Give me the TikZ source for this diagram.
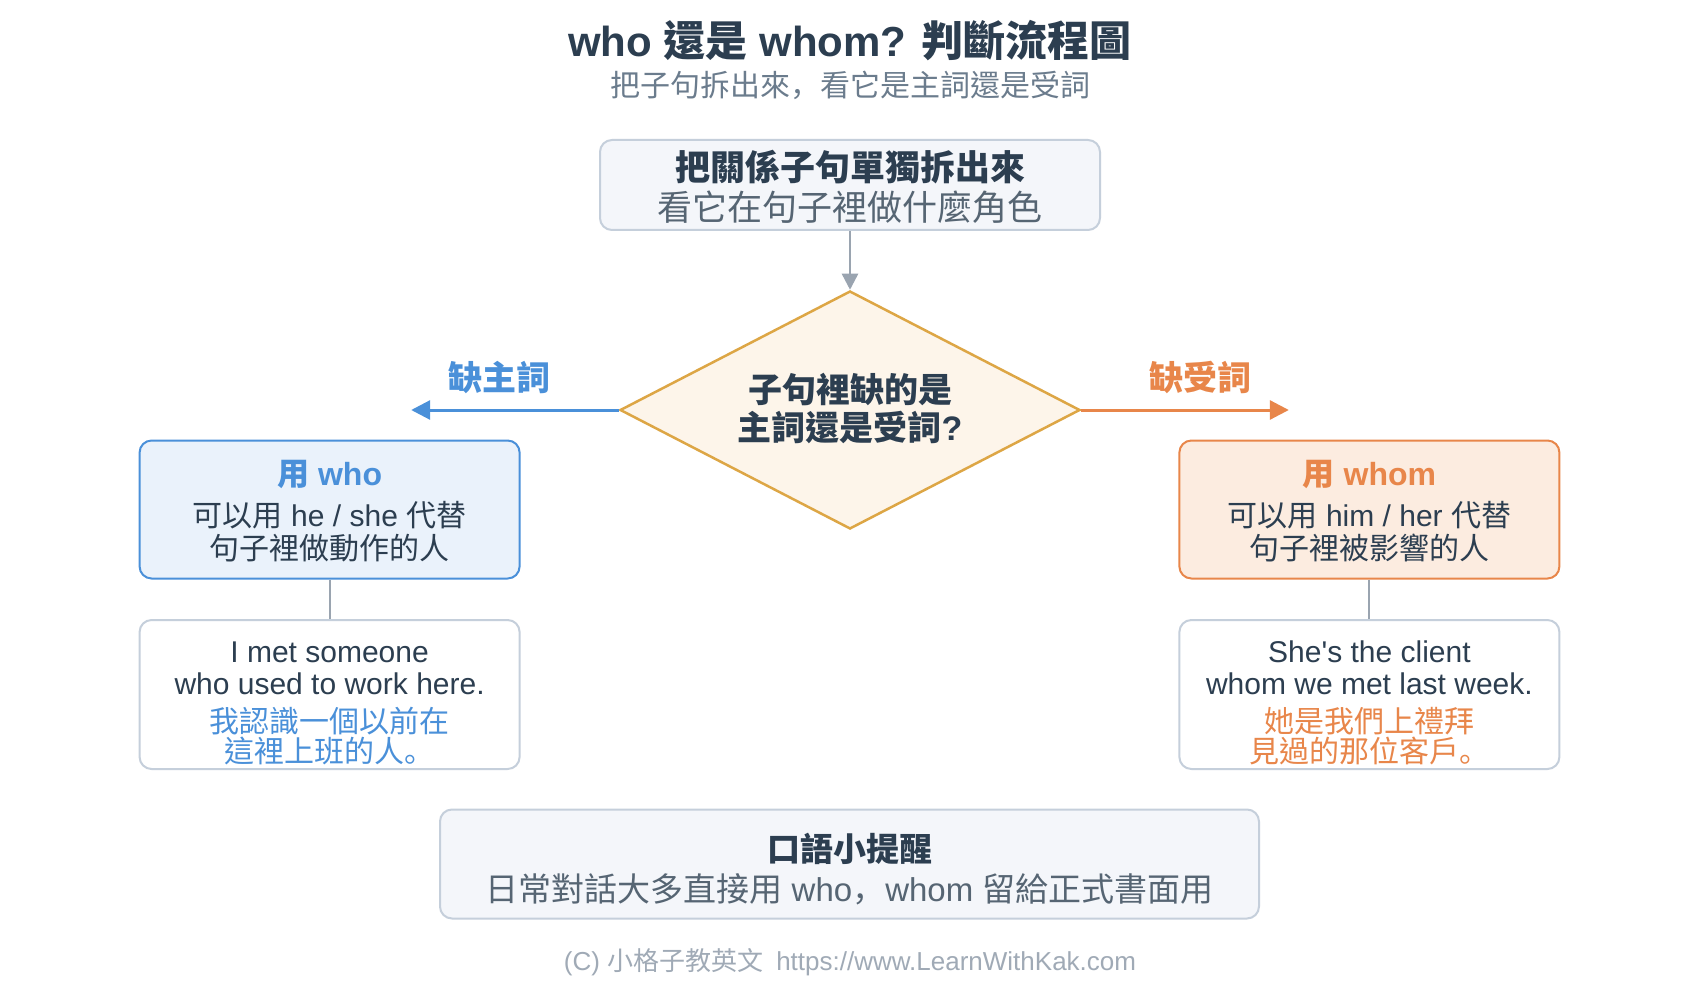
\documentclass[tikz,border=0pt]{standalone}
\usepackage{fontspec}
\setmainfont{Liberation Sans}[Ligatures=TeXOff]
\newfontfamily\cjk{Noto Sans CJK TC}
\newfontfamily\cjksc{Noto Sans CJK SC}
\usetikzlibrary{shapes.geometric,arrows.meta}
\definecolor{ink}{HTML}{2C3E50}
\definecolor{subgray}{HTML}{6B7C8D}
\definecolor{midgray}{HTML}{566573}
\definecolor{footgray}{HTML}{A0AAB6}
\definecolor{bordergray}{HTML}{C5CFDB}
\definecolor{arrowgray}{HTML}{9AA4B0}
\definecolor{paleblue}{HTML}{F4F6FA}
\definecolor{cblue}{HTML}{4A90D9}
\definecolor{cblueFill}{HTML}{EAF2FB}
\definecolor{corange}{HTML}{E8864A}
\definecolor{corangeFill}{HTML}{FCECE0}
\definecolor{gold}{HTML}{DDA645}
\definecolor{goldFill}{HTML}{FDF5EA}
\newcommand\zh[1]{{\cjk #1}}
\newcommand\pc[1]{{\cjksc #1}}
\tikzset{
  fs/.style={inner sep=0pt, font=\fontsize{#1pt}{#1pt}\selectfont, text height=#1pt*0.87, text depth=#1pt*0.13},
  box/.style={draw=#1, rounded corners=12pt, line width=2pt, inner sep=0pt},
  garrow/.style={draw=arrowgray, line width=2.5pt, -{Triangle[length=16pt,width=16pt]}},
  barrow/.style={draw=cblue, line width=3pt, -{Triangle[length=19pt,width=19pt]}},
  oarrow/.style={draw=corange, line width=3pt, -{Triangle[length=19pt,width=19pt]}},
  gline/.style={draw=arrowgray, line width=2pt},
}
\begin{document}
\begin{tikzpicture}[x=1pt,y=-1pt]
\useasboundingbox[fill=white] (0,0) rectangle (1700,1000);

% title
\node[fs=42, text=ink] (title) at (850,41) {\bfseries who \zh{還是} whom? \zh{判斷流程圖}};
\node[fs=30, text=subgray] (subtitle) at (850,85) {\zh{把子句拆出來}\pc{，}\zh{看它是主詞還是受詞}};

% top box
\node[box=bordergray, fill=paleblue, minimum width=500pt, minimum height=90pt] (top) at (850,185) {};
\node[fs=35, text=ink] (top1) at (850,167.5) {\bfseries\zh{把關係子句單獨拆出來}};
\node[fs=35, text=midgray] (top2) at (850,207.5) {\zh{看它在句子裡做什麼角色}};

% diamond
\node[diamond, draw=gold, fill=goldFill, line width=2.5pt, minimum width=460pt, minimum height=238pt, inner sep=0pt] (dia) at (850,410) {};
\node[fs=34, text=ink] (dia1) at (850,389.5) {\bfseries\zh{子句裡缺的是}};
\node[fs=34, text=ink] (dia2) at (850,427.5) {\bfseries\zh{主詞還是受詞}?};

\draw[garrow] (top.south) -- (dia.north);

% branches
\coordinate (ltip) at (411.2,410);
\coordinate (rtip) at (1288.8,410);
\draw[barrow] (dia.west) -- (ltip);
\draw[oarrow] (dia.east) -- (rtip);
\node[fs=34, text=cblue] (llab) at (499,378) {\bfseries\zh{缺主詞}};
\node[fs=34, text=corange] (rlab) at (1200,378) {\bfseries\zh{缺受詞}};

% left box
\node[box=cblue, fill=cblueFill, minimum width=380pt, minimum height=138pt] (lbox) at (329.6,509.5) {};
\node[fs=32, text=cblue] (l1) at (329.6,474) {\bfseries\zh{用} who};
\node[fs=30, text=ink] (l2) at (329.6,515.5) {\zh{可以用} he / she \zh{代替}};
\node[fs=30, text=ink] (l3) at (329.6,548.5) {\zh{句子裡做動作的人}};

% right box
\node[box=corange, fill=corangeFill, minimum width=380pt, minimum height=138pt] (rbox) at (1369.4,509.5) {};
\node[fs=32, text=corange] (r1) at (1369.4,474) {\bfseries\zh{用} whom};
\node[fs=30, text=ink] (r2) at (1369.4,515.5) {\zh{可以用} him / her \zh{代替}};
\node[fs=30, text=ink] (r3) at (1369.4,548.5) {\zh{句子裡被影響的人}};

% example boxes
\node[box=bordergray, fill=white, minimum width=380pt, minimum height=149pt] (lex) at (329.6,694.5) {};
\node[fs=30, text=ink] (lex1) at (329.6,651) {I met someone};
\node[fs=30, text=ink] (lex2) at (329.6,683) {who used to work here.};
\node[fs=30, text=cblue] (lex3) at (329.6,721.5) {\zh{我認識一個以前在}};
\node[fs=30, text=cblue] (lex4) at (329.6,751.5) {\zh{這裡上班的人}\pc{。}};

\node[box=bordergray, fill=white, minimum width=380pt, minimum height=149pt] (rex) at (1369.4,694.5) {};
\node[fs=30, text=ink] (rex1) at (1369.4,651) {She's the client};
\node[fs=30, text=ink] (rex2) at (1369.4,683) {whom we met last week.};
\node[fs=30, text=corange] (rex3) at (1369.4,721.5) {\zh{她是我們上禮拜}};
\node[fs=30, text=corange] (rex4) at (1369.4,751.5) {\zh{見過的那位客戶}\pc{。}};

\draw[gline] (lbox.south) -- (lex.north);
\draw[gline] (rbox.south) -- (rex.north);

% bottom note
\node[box=bordergray, fill=paleblue, minimum width=819pt, minimum height=109pt] (note) at (849.5,864) {};
\node[fs=33, text=ink] (note1) at (849.5,849) {\bfseries\zh{口語小提醒}};
\node[fs=33, text=midgray] (note2) at (849.5,889) {\zh{日常對話大多直接用} who\pc{，}whom \zh{留給正式書面用}};

% footer
\node[fs=26, text=footgray] (foot) at (850,961) {(C) \zh{小格子教英文}\hspace{0.5em}https://www.LearnWithKak.com};
\end{tikzpicture}
\end{document}
